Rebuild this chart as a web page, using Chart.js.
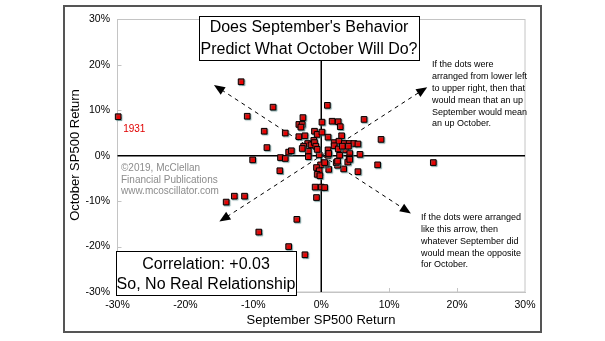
<!DOCTYPE html>
<html><head><meta charset="utf-8">
<script src="https://cdn.jsdelivr.net/npm/chart.js@4.4.1/dist/chart.umd.min.js"></script>
<style>html,body{margin:0;padding:0;background:#fff;}#wrap{width:605px;height:341px;}</style>
</head><body><div id="wrap"><canvas id="c" width="605" height="341"></canvas></div>
<script>
// September SP500 return (%) per year
const septemberReturns = [
  -29.9, -11.8, -7.1, -10.9, -8.4, -8.0, -10.1, -5.3, -6.0, -5.3, -4.8, -4.4, -6.1,
  -14.0, -12.8, -11.3, -9.2, -3.6, -4.8, -2.4,
  -2.7, -3.3, -2.8, -3.0, -3.3, -2.4, -1.0, -0.6, 0.1, 0.1, 0.9, 1.0, 1.6, 2.5, 2.8, 3.0,
  -1.1, -2.0, -1.5, -1.0, -2.6, -1.9, -0.8, -1.9, -0.3, 1.0, 1.0,
  1.9, 2.6, 3.4, 4.1, 4.8, 5.4, 1.9, 2.5, 2.7, 3.6, 4.2, 4.1, 5.7, 6.3, 8.8, 8.3, 16.5,
  5.4, 3.3, 2.4, 2.2, 1.1, 0.7, -0.1, -0.7, -0.3, -0.6, -0.2, -0.9, 0.0, 0.5, -0.7,
  2.4, 3.9, 4.2, 0.5, -2.8, -0.6, 3.1, 4.0, 1.1
];
// October SP500 return (%) for the same years
const octoberReturns = [
  8.6, 16.3, 10.7, 8.7, 5.4, 1.8, -0.9, 5.0, -0.4, -0.6, 0.8, 1.1, -3.3,
  -10.2, -8.9, -8.9, -16.8, -14.0, -20.0, -21.8,
  8.4, 6.9, 6.9, 6.3, 4.2, 4.4, 5.4, 4.7, 5.2, 7.4, 11.1, 4.1, 7.6, 7.5, 6.4, 4.4,
  3.4, 2.7, 2.4, 2.9, 2.1, 1.0, 2.1, -0.2, 0.2, 1.3, 0.1,
  2.9, 3.2, 2.7, 2.7, 2.7, 2.6, 2.2, 1.5, 0.1, 1.3, 0.5, -0.5, 0.3, 8.0, 3.6, -2.0, -1.5,
  -3.5, -2.9, -2.1, -1.5, -3.0, -1.8, -2.0, -2.6, -3.3, -4.1, -4.4, -6.9, -6.9, -7.0, -9.2,
  -1.2, -1.4, -0.8, -1.5, 1.6, 1.4, 2.1, 2.1, 0.5
];
const tickValues = [-30, -20, -10, 0, 10, 20, 30];
const outlierLabel = '1931';
const xTitle = 'September SP500 Return';
const yTitle = 'October SP500 Return';
const titleLines = ["Does September's Behavior", 'Predict What October Will Do?'];
const corrLines = ['Correlation: +0.03', 'So, No Real Relationship'];
const creditLines = ['\u00A92019, McClellan', 'Financial Publications', 'www.mcoscillator.com'];
const noteUp = ['If the dots were', 'arranged from lower left', 'to upper right, then that', 'would mean that an up', 'September would mean', 'an up October.'];
const noteDown = ['If the dots were arranged', 'like this arrow, then', 'whatever September did', 'would mean the opposite', 'for October.'];
// arrow endpoints in data units [sep, oct]
const arrowUp = [[-15.0, -14.5], [15.6, 15.1]];
const arrowDown = [[-15.8, 15.6], [13.2, -12.7]];

const points = septemberReturns.map((x, i) => ({x: x, y: octoberReturns[i]}));
const FONT = '"Liberation Sans", Arial, sans-serif';

function arrowHead(ctx, x, y, ang) {
  const L = 11, W = 4.5;
  ctx.beginPath();
  ctx.moveTo(x, y);
  ctx.lineTo(x - L * Math.cos(ang) + W * Math.sin(ang), y - L * Math.sin(ang) - W * Math.cos(ang));
  ctx.lineTo(x - L * Math.cos(ang) - W * Math.sin(ang), y - L * Math.sin(ang) + W * Math.cos(ang));
  ctx.closePath();
  ctx.fill();
}
function drawArrow(chart, a) {
  const xs = chart.scales.x, ys = chart.scales.y, ctx = chart.ctx;
  const x1 = xs.getPixelForValue(a[0][0]), y1 = ys.getPixelForValue(a[0][1]);
  const x2 = xs.getPixelForValue(a[1][0]), y2 = ys.getPixelForValue(a[1][1]);
  const ang = Math.atan2(y2 - y1, x2 - x1);
  ctx.save();
  ctx.strokeStyle = '#000'; ctx.fillStyle = '#000'; ctx.lineWidth = 1;
  ctx.setLineDash([4, 4]);
  ctx.beginPath();
  ctx.moveTo(x1 + 9 * Math.cos(ang), y1 + 9 * Math.sin(ang));
  ctx.lineTo(x2 - 9 * Math.cos(ang), y2 - 9 * Math.sin(ang));
  ctx.stroke();
  ctx.setLineDash([]);
  arrowHead(ctx, x2, y2, ang);
  arrowHead(ctx, x1, y1, ang + Math.PI);
  ctx.restore();
}
function textLines(ctx, lines, x, y0, dy, align) {
  ctx.textAlign = align;
  lines.forEach((t, i) => ctx.fillText(t, x, y0 + i * dy));
}

const decor = {
  id: 'decor',
  beforeDatasetsDraw(chart) {
    const ctx = chart.ctx, a = chart.chartArea, xs = chart.scales.x, ys = chart.scales.y;
    ctx.save();
    ctx.strokeStyle = '#c4c4c4'; ctx.lineWidth = 1;
    ctx.strokeRect(a.left, a.top, a.right - a.left, a.bottom - a.top);
    ctx.beginPath();
    tickValues.forEach(v => {
      if (v === -30 || v === 30 || v === 0) return;
      const px = Math.round(xs.getPixelForValue(v)) + 0.5;
      ctx.moveTo(px, a.bottom); ctx.lineTo(px, a.bottom - 4);
      const py = Math.round(ys.getPixelForValue(v)) + 0.5;
      ctx.moveTo(a.left, py); ctx.lineTo(a.left + 4, py);
    });
    ctx.stroke();
    ctx.strokeStyle = '#000'; ctx.lineWidth = 1.5;
    const zx = xs.getPixelForValue(0), zy = ys.getPixelForValue(0);
    ctx.beginPath();
    ctx.moveTo(zx, a.top); ctx.lineTo(zx, a.bottom);
    ctx.moveTo(a.left, zy); ctx.lineTo(a.right, zy);
    ctx.stroke();
    ctx.restore();
    drawArrow(chart, arrowUp);
    drawArrow(chart, arrowDown);
    ctx.save();
    ctx.fillStyle = '#8c8c8c'; ctx.font = '10px ' + FONT; ctx.textBaseline = 'middle';
    textLines(ctx, creditLines, 121, 168.5, 11.3, 'left');
    const p = points[0];
    ctx.fillStyle = '#e00000';
    ctx.fillText(outlierLabel, xs.getPixelForValue(p.x) + 5, ys.getPixelForValue(p.y) + 12.5);
    ctx.restore();
  },
  beforeDatasetDraw(chart) {
    const ctx = chart.ctx;
    ctx.save();
    ctx.shadowColor = 'rgba(70,120,120,0.55)';
    ctx.shadowOffsetX = 1; ctx.shadowOffsetY = 1; ctx.shadowBlur = 1;
  },
  afterDatasetDraw(chart) { chart.ctx.restore(); },
  afterDraw(chart) {
    const ctx = chart.ctx;
    ctx.save();
    ctx.strokeStyle = '#555'; ctx.lineWidth = 2;
    ctx.strokeRect(64, 6, 477, 326);
    ctx.fillStyle = '#fff'; ctx.strokeStyle = '#000'; ctx.lineWidth = 1;
    ctx.fillRect(199, 16, 220, 44); ctx.strokeRect(199.5, 16.5, 220, 44);
    ctx.fillStyle = '#000'; ctx.font = '16px ' + FONT; ctx.textBaseline = 'middle';
    textLines(ctx, titleLines, 309, 28, 21.5, 'center');
    ctx.fillStyle = '#fff';
    ctx.fillRect(116, 251, 180, 44); ctx.strokeRect(116.5, 251.5, 180, 44);
    ctx.fillStyle = '#000';
    textLines(ctx, corrLines, 206, 264.5, 20.5, 'center');
    ctx.font = '9px ' + FONT;
    textLines(ctx, noteUp, 432, 65, 11.8, 'left');
    textLines(ctx, noteDown, 421, 218, 11.7, 'left');
    ctx.font = '13px ' + FONT;
    ctx.textAlign = 'center';
    ctx.fillText(xTitle, 321, 320);
    ctx.translate(75, 155); ctx.rotate(-Math.PI / 2);
    ctx.fillText(yTitle, 0, 0);
    ctx.restore();
  }
};

new Chart(document.getElementById('c'), {
  type: 'scatter',
  data: { datasets: [{
    data: points, clip: false,
    pointStyle: 'rect', pointRadius: 4, pointHoverRadius: 4,
    backgroundColor: '#ee0000', borderColor: '#000', borderWidth: 1
  }]},
  options: {
    responsive: false, animation: false, devicePixelRatio: 1,
    layout: { padding: { left: 0, right: 80, top: 19.5, bottom: 0 } },
    plugins: { legend: { display: false }, tooltip: { enabled: false }, title: { display: false } },
    scales: {
      x: {
        type: 'linear', min: -30, max: 30,
        afterBuildTicks: s => { s.ticks = tickValues.map(v => ({value: v})); },
        afterFit: s => { s.height = 49; },
        grid: { display: false, drawTicks: false },
        border: { display: true, color: '#c4c4c4' },
        ticks: { padding: 7, color: '#000', font: { size: 10.5, family: FONT }, callback: v => v + '%' }
      },
      y: {
        type: 'linear', min: -30, max: 30,
        afterBuildTicks: s => { s.ticks = tickValues.map(v => ({value: v})); },
        afterFit: s => { s.width = 117.5; },
        grid: { display: false, drawTicks: false },
        border: { display: true, color: '#c4c4c4' },
        ticks: { padding: 7.5, color: '#000', font: { size: 10.5, family: FONT }, callback: v => v + '%' }
      }
    }
  },
  plugins: [decor]
});
</script></body></html>
